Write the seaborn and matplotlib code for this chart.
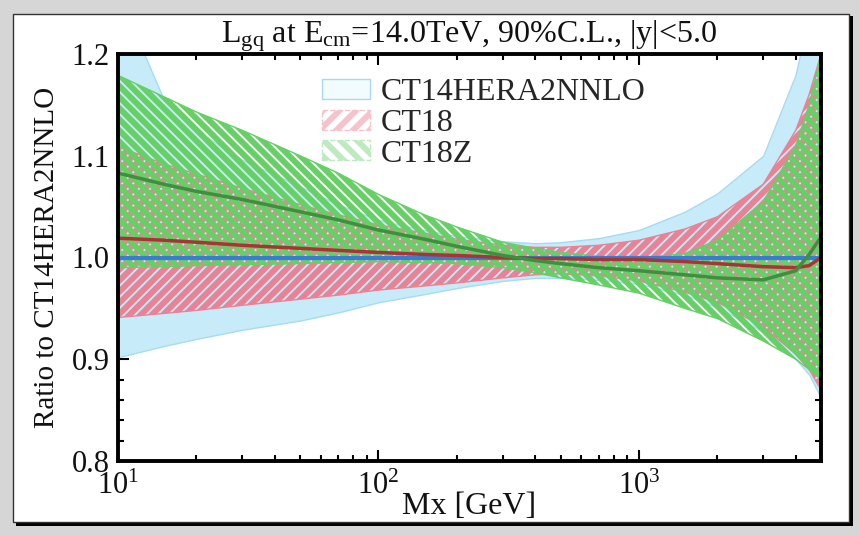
import matplotlib
matplotlib.use("Agg")
import matplotlib.pyplot as plt
import seaborn as sns
import numpy as np
import pandas as pd
from matplotlib.patches import Rectangle, Patch
from matplotlib.ticker import LogLocator, MultipleLocator, FixedLocator

# ---- data ----
mx = [10, 15, 20, 30, 50, 70, 100, 150, 200, 300, 400, 500, 700, 1000, 1500, 2000, 3000, 4000, 4500, 5000]

ct14_c = [1.0] * len(mx)
ct14_up = [1.26, 1.155, 1.125, 1.096, 1.07, 1.052, 1.037, 1.027, 1.021, 1.016, 1.014, 1.015, 1.019, 1.027,
           1.045, 1.063, 1.10, 1.18, 1.24, 1.32]
ct14_lo = [0.902, 0.913, 0.92, 0.929, 0.938, 0.946, 0.956, 0.964, 0.97, 0.977, 0.98, 0.98, 0.978, 0.974,
           0.963, 0.951, 0.927, 0.90, 0.885, 0.862]

ct18_c = [1.019, 1.017, 1.015, 1.012, 1.009, 1.007, 1.005, 1.003, 1.002, 1.0, 0.999, 0.999, 0.998, 0.998,
          0.996, 0.994, 0.991, 0.99, 0.992, 1.0]
ct18_up = [1.109, 1.092, 1.082, 1.068, 1.052, 1.042, 1.032, 1.024, 1.018, 1.012, 1.01, 1.01, 1.012, 1.017,
           1.028, 1.04, 1.072, 1.125, 1.16, 1.20]
ct18_lo = [0.941, 0.945, 0.948, 0.953, 0.959, 0.963, 0.968, 0.972, 0.975, 0.98, 0.983, 0.984, 0.982, 0.977,
           0.966, 0.956, 0.932, 0.905, 0.89, 0.87]

ct18z_c = [1.083, 1.072, 1.065, 1.057, 1.045, 1.037, 1.027, 1.018, 1.011, 1.002, 0.997, 0.994, 0.99, 0.987,
           0.983, 0.98, 0.978, 0.987, 1.003, 1.02]
ct18z_up = [1.179, 1.158, 1.143, 1.125, 1.10, 1.083, 1.062, 1.042, 1.03, 1.015, 1.009, 1.005, 1.001, 0.999,
            1.004, 1.017, 1.055, 1.11, 1.15, 1.20]
ct18z_lo = [0.99, 0.991, 0.992, 0.993, 0.994, 0.995, 0.996, 0.995, 0.994, 0.99, 0.985, 0.98, 0.973, 0.965,
            0.95, 0.94, 0.918, 0.90, 0.89, 0.88]

labels = ["CT14HERA2NNLO", "CT18", "CT18Z"]
title = r"L$_{\rm gq}$ at E$_{\rm cm}$=14.0TeV, 90%C.L., |y|<5.0"
xlabel = "Mx [GeV]"
ylabel = "Ratio to CT14HERA2NNLO"
yticks = [0.8, 0.9, 1.0, 1.1, 1.2]

# ---- style ----
sns.set_theme(style="ticks")
plt.rcParams['font.family'] = ['Liberation Serif', 'DejaVu Serif']
plt.rcParams['mathtext.fontset'] = 'custom'
plt.rcParams['mathtext.rm'] = 'Liberation Serif'
plt.rcParams['mathtext.it'] = 'Liberation Serif:italic'
plt.rcParams['hatch.linewidth'] = 4.3

blue_fill = '#c8ebfa'
blue_edge = '#a6dbf3'
red_h = '#ea8296'
green_h = '#66cf66'
blue_line = '#3a7bd5'
red_line = '#a83535'
green_line = '#3f8f3f'

df = pd.DataFrame({'mx': mx, 'ct14': ct14_c, 'ct18': ct18_c, 'ct18z': ct18z_c})

fig = plt.figure(figsize=(8.6, 5.36), dpi=100)
fig.patch.set_facecolor('#d6d6d6')
# panel shadow and panel
fig.patches.append(Rectangle((16 / 860, 1 - 526 / 536), 837 / 860, 510 / 536, transform=fig.transFigure,
                             facecolor='black', edgecolor='none', zorder=-20))
fig.patches.append(Rectangle((13 / 860, 1 - 522 / 536), 836 / 860, 508 / 536, transform=fig.transFigure,
                             facecolor='white', edgecolor='#333333', lw=1.0, zorder=-19))

ax = fig.add_axes([118 / 860, 1 - 461 / 536, 703 / 860, 407 / 536])
ax.set_facecolor('none')

# bands
ax.fill_between(mx, ct14_lo, ct14_up, facecolor=blue_fill, edgecolor=blue_edge, lw=1.0, zorder=1)
ax.fill_between(mx, ct18_lo, ct18_up, facecolor='none', edgecolor=red_h, hatch='///', lw=0, zorder=2)
ax.plot(mx, ct18_up, color=red_h, lw=1.0, zorder=2)
ax.plot(mx, ct18_lo, color=red_h, lw=1.0, zorder=2)
ax.fill_between(mx, ct18z_lo, ct18z_up, facecolor='none', edgecolor=green_h, hatch='\\\\\\', lw=0, zorder=3)
ax.plot(mx, ct18z_up, color=green_h, lw=1.0, zorder=3)
ax.plot(mx, ct18z_lo, color=green_h, lw=1.0, zorder=3)

# central lines
sns.lineplot(data=df, x='mx', y='ct14', ax=ax, color=blue_line, lw=3.0, zorder=5)
sns.lineplot(data=df, x='mx', y='ct18', ax=ax, color=red_line, lw=2.5, zorder=6)
sns.lineplot(data=df, x='mx', y='ct18z', ax=ax, color=green_line, lw=2.5, zorder=7)

ax.set_xscale('log')
ax.set_xlim(10, 5000)
ax.set_ylim(0.8, 1.2)
ax.set_yticks(yticks)
ax.set_yticklabels([f"{v:.1f}" for v in yticks])
ax.yaxis.set_minor_locator(MultipleLocator(0.02))
ax.xaxis.set_major_locator(FixedLocator([10, 100, 1000]))
ax.set_xticklabels([r"$10^{1}$", r"$10^{2}$", r"$10^{3}$"])
ax.xaxis.set_minor_locator(LogLocator(base=10, subs=np.arange(2, 10)))
ax.xaxis.set_minor_formatter(matplotlib.ticker.NullFormatter())

ax.tick_params(which='both', direction='in', top=True, right=True, color='black', width=1.5)
ax.tick_params(which='major', length=8, labelsize=22, pad=6, labelcolor='#111111')
ax.tick_params(axis='x', which='major', pad=8)
ax.tick_params(which='minor', length=4)
for s in ax.spines.values():
    s.set_linewidth(2.8)
    s.set_color('black')
    s.set_zorder(10)

ax.set_xlabel(xlabel, fontsize=23, labelpad=-7, color='#111111')
ax.set_ylabel(ylabel, fontsize=21, labelpad=8, color='#111111')
ax.set_title(title, fontsize=23, pad=5, color='#111111')

handles = [
    Patch(facecolor='#f2fbff', edgecolor=blue_edge, lw=1.0),
    Patch(facecolor='white', edgecolor='#f6c3cd', hatch='//', lw=1.0, ls='--'),
    Patch(facecolor='white', edgecolor='#bfeabf', hatch='\\\\', lw=1.0, ls='--'),
]
leg = ax.legend(handles, labels, loc='upper left', bbox_to_anchor=(0.29, 0.94), frameon=False,
                borderaxespad=0, borderpad=0,
                fontsize=23, handlelength=1.5, handleheight=0.6, handletextpad=0.35, labelspacing=0.05)

fig.savefig('out.png', dpi=100, facecolor=fig.get_facecolor())
